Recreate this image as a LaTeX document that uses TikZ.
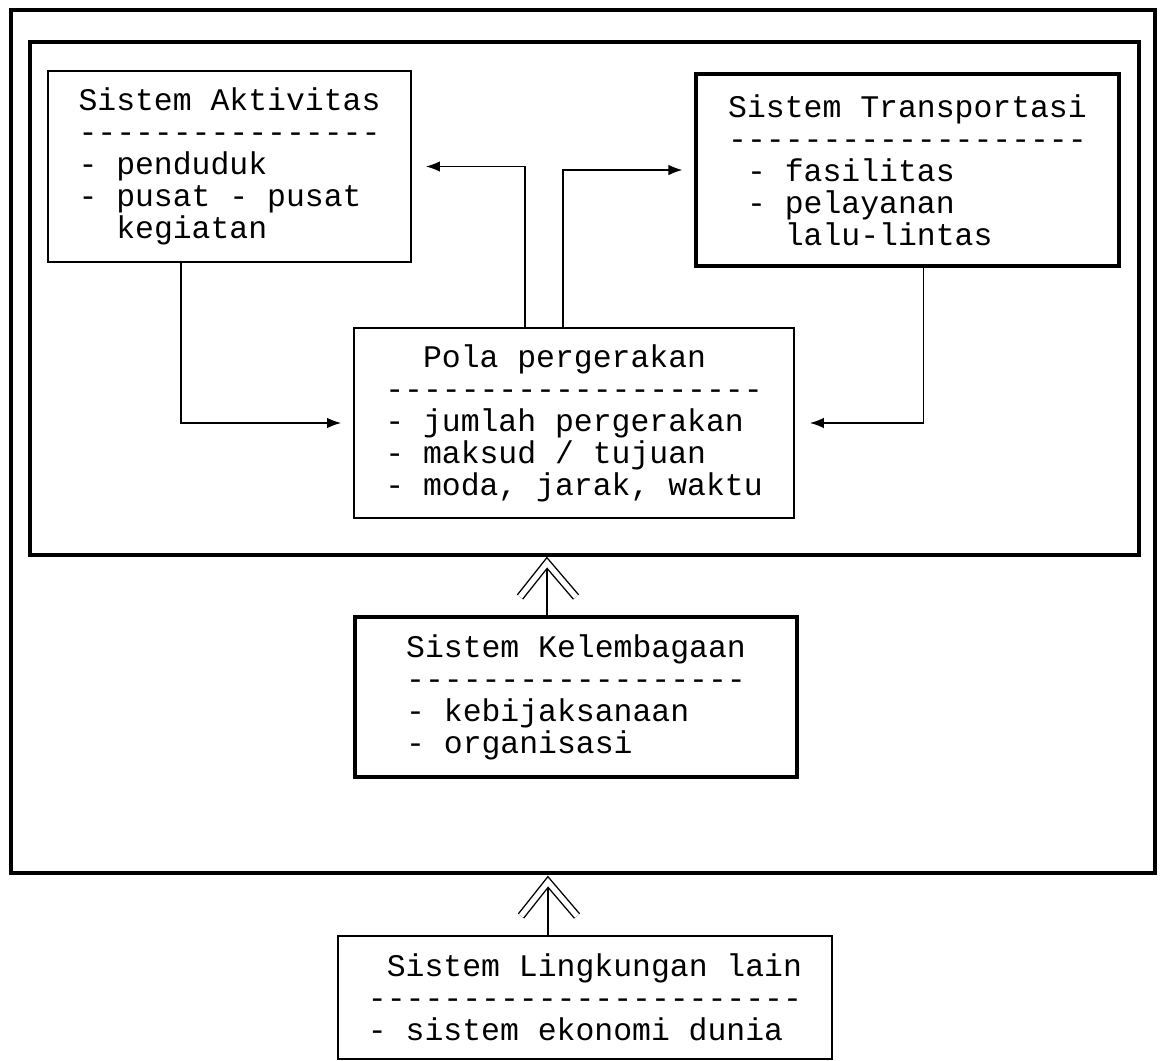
\documentclass[tikz,border=0pt]{standalone}
\usepackage{fontspec}
\setmonofont{Liberation Mono}
\usetikzlibrary{arrows.meta,calc,positioning}

\tikzset{
  sysbox/.style={rectangle,draw=black,line width=1pt,align=left,inner sep=0pt,font=\ttfamily\fontsize{17.9}{18.2}\selectfont},
  heavybox/.style={sysbox,line width=1.8pt},
  frame/.style={rectangle,draw=black,inner sep=0pt},
  conn/.style={draw=black,line width=0.9pt,-{Latex[length=8pt,width=6pt]}},
  dblhead/.style={double=white,double distance=3pt,line width=0.8pt,line join=miter},
}

\begin{document}
\begin{tikzpicture}[x=0.02cm,y=-0.02cm]
\useasboundingbox (0,0) rectangle (1161,1061);
% frames
\node[frame,line width=2.6pt,minimum width=22.88cm,minimum height=17.26cm](outer) at (583,441.5){};
\node[frame,line width=2.1pt,minimum width=22.18cm,minimum height=10.26cm](inner) at (584.5,298.5){};
% systems
\node[sysbox,minimum width=7.26cm,minimum height=3.82cm](akt) at (229.5,166.5){Sistem Aktivitas\\----------------\\- penduduk\\- pusat - pusat\\\phantom{xx}kegiatan};
\node[heavybox,minimum width=8.46cm,minimum height=3.84cm](trans) at (907.5,170){Sistem Transportasi\\-------------------\\\phantom{x}- fasilitas\\\phantom{x}- pelayanan\\\phantom{xxx}lalu-lintas};
\node[sysbox,minimum width=8.8cm,minimum height=3.8cm](pola) at (574,423){\phantom{xx}Pola pergerakan\\--------------------\\- jumlah pergerakan\\- maksud / tujuan\\- moda, jarak, waktu};
\node[heavybox,minimum width=8.84cm,minimum height=3.2cm](kel) at (576,697){Sistem Kelembagaan\\------------------\\- kebijaksanaan\\- organisasi};
\node[sysbox,minimum width=9.88cm,minimum height=2.46cm](lingk) at (585,997.5){\phantom{x}Sistem Lingkungan lain\\-----------------------\\- sistem ekonomi dunia};
% arrows between the systems
\draw[conn,shorten >=0.24cm] ($(akt.south west)+(134,0)$) |- (pola.west);
\draw[conn,shorten >=0.3cm] ($(trans.south west)+(229,0)$) |- (pola.east);
\draw[conn,shorten >=0.28cm] ($(pola.north west)+(172,0)$) |- (akt.east);
\draw[conn,shorten >=0.24cm] ($(pola.north west)+(210,0)$) |- (trans.west);
% double arrows up
\coordinate (upA) at (547,563);
\coordinate (upB) at (548,882);
\draw[line width=0.9pt] (upA |- kel.north) -- (upA);
\draw[dblhead] ($(upA)+(-27,34)$) -- (upA) -- ($(upA)+(29,34)$);
\draw[line width=0.9pt] (upB |- lingk.north) -- (upB);
\draw[dblhead] ($(upB)+(-27,34)$) -- (upB) -- ($(upB)+(29,34)$);
\end{tikzpicture}
\end{document}
